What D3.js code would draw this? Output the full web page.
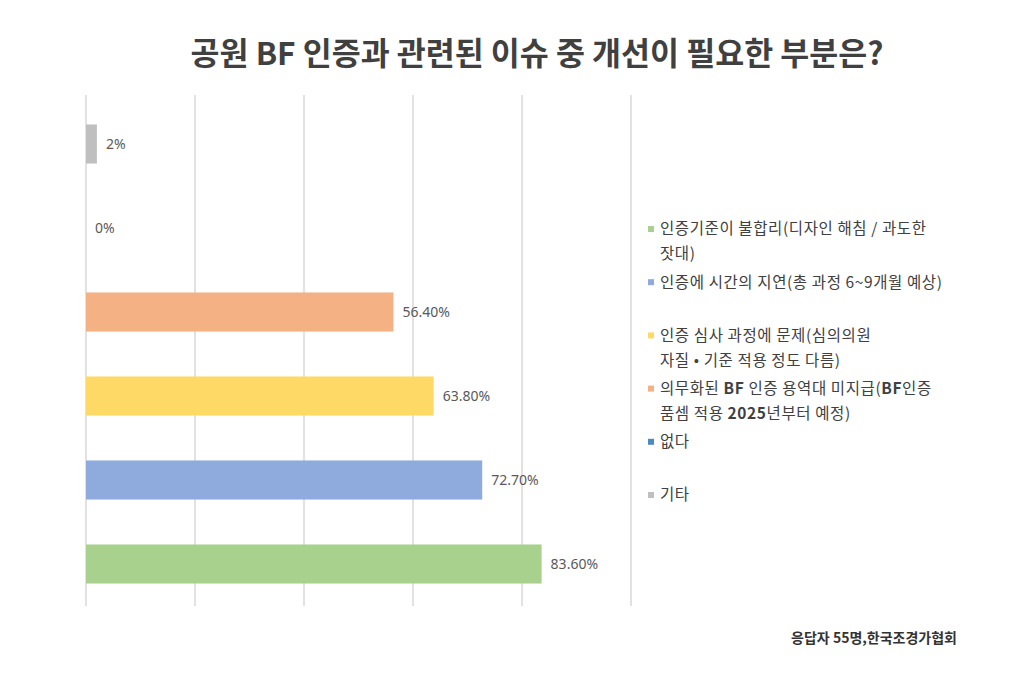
<!DOCTYPE html>
<html>
<head>
<meta charset="utf-8">
<script src="https://cdn.jsdelivr.net/npm/d3@7"></script>
<style>
  body { margin: 0; background: #fff; }
  text { font-family: "Noto Sans CJK KR", "Noto Sans", sans-serif; }
</style>
</head>
<body>
<div id="chart"></div>
<script>
// data (bottom bar first, same order as the legend)
var categories = [
  "인증기준이 불합리(디자인 해침 / 과도한 잣대)",
  "인증에 시간의 지연(총 과정 6~9개월 예상)",
  "인증 심사 과정에 문제(심의의원 자질 • 기준 적용 정도 다름)",
  "의무화된 BF 인증 용역대 미지급(BF인증 품셈 적용 2025년부터 예정)",
  "없다",
  "기타"
];
var values = [83.6, 72.7, 63.8, 56.4, 0, 2];
var valueLabels = ["83.60%", "72.70%", "63.80%", "56.40%", "0%", "2%"];
var xTicks = [0, 20, 40, 60, 80, 100];

// legend text split into lines, ** marks bold parts
var legendLines = [
  ["인증기준이 불합리(디자인 해침 / 과도한", "잣대)"],
  ["인증에 시간의 지연(총 과정 6~9개월 예상)"],
  ["인증 심사 과정에 문제(심의의원", "자질 • 기준 적용 정도 다름)"],
  ["의무화된 **BF** 인증 용역대 미지급(**BF**인증", "품셈 적용 **2025**년부터 예정)"],
  ["없다"],
  ["기타"]
];

var barColors = ["#A9D18E", "#8FAADC", "#FFD966", "#F4B183", "#4A8BC2", "#BFBFBF"];

var svgWidth = 1024;
var svgHeight = 682;

var svg = d3.select("#chart")
  .append("svg")
  .attr("width", svgWidth)
  .attr("height", svgHeight);

// title
svg.append("text")
  .attr("x", 537)
  .attr("y", 65)
  .attr("text-anchor", "middle")
  .style("font-size", "31.5px")
  .style("font-weight", "bold")
  .style("fill", "#404040")
  .text("공원 BF 인증과 관련된 이슈 중 개선이 필요한 부분은?");

// scales
var xScale = d3.scaleLinear()
  .domain([0, 100])
  .range([86, 631]);

var yScale = d3.scaleBand()
  .domain(categories)
  .range([606, 102])
  .paddingInner(0.535)
  .paddingOuter(0.2675);

// gridlines
svg.append("g")
  .selectAll("line")
  .data(xTicks)
  .enter()
  .append("line")
  .attr("x1", d => xScale(d))
  .attr("x2", d => xScale(d))
  .attr("y1", 95)
  .attr("y2", 606)
  .attr("stroke", "#d9d9d9")
  .attr("stroke-width", 1.5);

// bars
svg.append("g")
  .selectAll("rect")
  .data(categories)
  .enter()
  .append("rect")
  .attr("x", xScale(0))
  .attr("y", d => yScale(d))
  .attr("width", (d, i) => xScale(values[i]) - xScale(0))
  .attr("height", yScale.bandwidth())
  .attr("fill", (d, i) => barColors[i]);

// value labels
svg.append("g")
  .selectAll("text")
  .data(categories)
  .enter()
  .append("text")
  .attr("x", (d, i) => xScale(values[i]) + 9)
  .attr("y", d => yScale(d) + yScale.bandwidth() / 2)
  .attr("dy", "0.35em")
  .style("font-family", "'Noto Sans', sans-serif")
  .style("font-size", "14px")
  .style("fill", "#595959")
  .text((d, i) => valueLabels[i]);

// legend
var legendTop = 229;
var legendStep = 53.2;
var lineGap = 25;

var legend = svg.append("g");
legendLines.forEach(function(lines, i) {
  var y0 = legendTop + i * legendStep;
  legend.append("rect")
    .attr("x", 648)
    .attr("y", y0 - 3)
    .attr("width", 6)
    .attr("height", 6)
    .attr("fill", barColors[i]);

  lines.forEach(function(line, j) {
    var t = legend.append("text")
      .attr("x", 660)
      .attr("y", y0 + j * lineGap)
      .attr("dy", "0.35em")
      .style("font-size", "15.5px")
      .style("letter-spacing", "0.6px")
      .style("fill", "#404040");
    line.split("**").forEach(function(part, k) {
      t.append("tspan")
        .style("font-weight", k % 2 ? "bold" : "normal")
        .text(part);
    });
  });
});

// source note
svg.append("text")
  .attr("x", 957)
  .attr("y", 638)
  .attr("dy", "0.35em")
  .attr("text-anchor", "end")
  .style("font-size", "14px")
  .style("font-weight", "bold")
  .style("fill", "#333")
  .text("응답자 55명,한국조경가협회");
</script>
</body>
</html>
